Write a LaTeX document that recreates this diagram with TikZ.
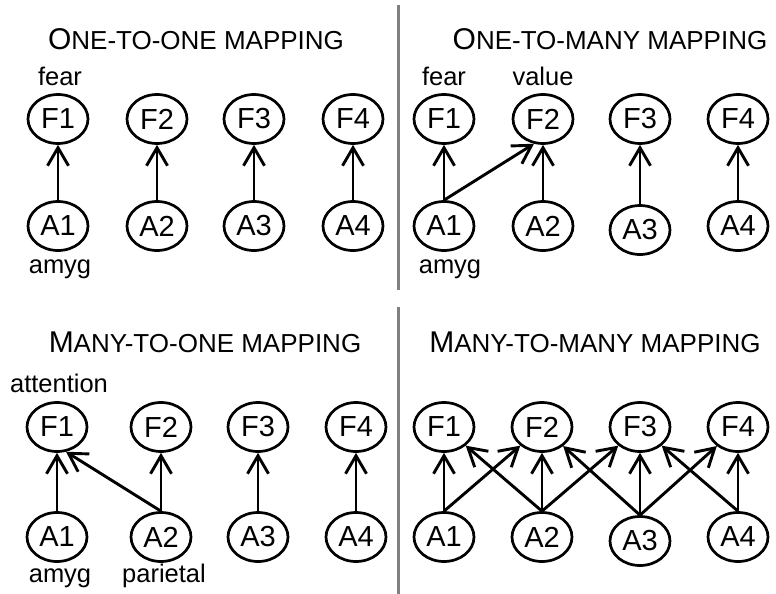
\documentclass[tikz,border=0pt]{standalone}
\usepackage{fontspec}
\setmainfont{Liberation Sans}
\usetikzlibrary{arrows.meta,shapes.geometric}

% fake small caps for the panel titles
\newcommand{\fakesc}[2]{{\fontsize{30}{34}\selectfont #1}{\fontsize{26}{30}\selectfont #2}}

\begin{document}
\begin{tikzpicture}[x=1pt, y=-1pt,
        >={Straight Barb[length=18pt, width=21pt, line width=2.9pt]},
        unit/.style={ellipse, draw, line width=2.7pt, minimum width=60pt, minimum height=49pt, inner sep=0pt, font=\fontsize{29}{32}\selectfont},
        lbl/.style={anchor=base, inner sep=0pt, font=\fontsize{25.5}{30}\selectfont},
        ttl/.style={anchor=base, inner sep=0pt},
        map/.style={->, line width=2.9pt},
        sep/.style={line width=3pt, draw=gray}]
        \useasboundingbox (0,0) rectangle (776,594);

        % Separators
        \draw[sep] (398,5) -- (398,290);
        \draw[sep] (398,307) -- (398,594);

        % One-to-one mapping
        \node[ttl] (t-oo) at (196,50) {\fakesc{O}{NE-TO-ONE MAPPING}};
        \foreach \i/\x in {1/58,2/157,3/254,4/353} {
            \node[unit] (oo-f\i) at (\x,119) {F\i};
            \node[unit] (oo-a\i) at (\x,226) {A\i};
            \draw[map] (oo-a\i.north) -- (oo-f\i.south);
        }
        \node[lbl] (oo-fear) at (60,85) {fear};
        \node[lbl] (oo-amyg) at (60,273) {amyg};

        % One-to-many mapping
        \node[ttl] (t-om) at (610,50) {\fakesc{O}{NE-TO-MANY MAPPING}};
        \foreach \i/\x/\y in {1/444/226,2/543/226,3/640/230,4/738/226} {
            \node[unit] (om-f\i) at (\x,119) {F\i};
            \node[unit] (om-a\i) at (\x,\y) {A\i};
            \draw[map] (om-a\i.north) -- (om-f\i.south);
        }
        \draw[map] (om-a1.north) -- (om-f2.250);
        \node[lbl] (om-fear) at (444,85) {fear};
        \node[lbl] (om-value) at (543,85) {value};
        \node[lbl] (om-amyg) at (450,273) {amyg};

        % Many-to-one mapping
        \node[ttl] (t-mo) at (205,352) {\fakesc{M}{ANY-TO-ONE MAPPING}};
        \foreach \i/\x in {1/57,2/161,3/258,4/356} {
            \node[unit] (mo-f\i) at (\x,427) {F\i};
            \node[unit] (mo-a\i) at (\x,537) {A\i};
            \draw[map] (mo-a\i.north) -- (mo-f\i.south);
        }
        \draw[map] (mo-a2.north) -- (mo-f1.290);
        \node[lbl] (mo-att) at (59,392) {attention};
        \node[lbl] (mo-amyg) at (60,582) {amyg};
        \node[lbl] (mo-par) at (164,582) {parietal};

        % Many-to-many mapping
        \node[ttl] (t-mm) at (595,352) {\fakesc{M}{ANY-TO-MANY MAPPING}};
        \foreach \i/\x/\y in {1/444/537,2/542/537,3/640/541,4/738/537} {
            \node[unit] (mm-f\i) at (\x,427) {F\i};
            \node[unit] (mm-a\i) at (\x,\y) {A\i};
            \draw[map] (mm-a\i.north) -- (mm-f\i.south);
        }
        \foreach \a/\f in {1/2,2/1,2/3,3/2,3/4,4/3}
            \draw[map] (mm-a\a.north) -- (mm-f\f);
    \end{tikzpicture}
\end{document}
